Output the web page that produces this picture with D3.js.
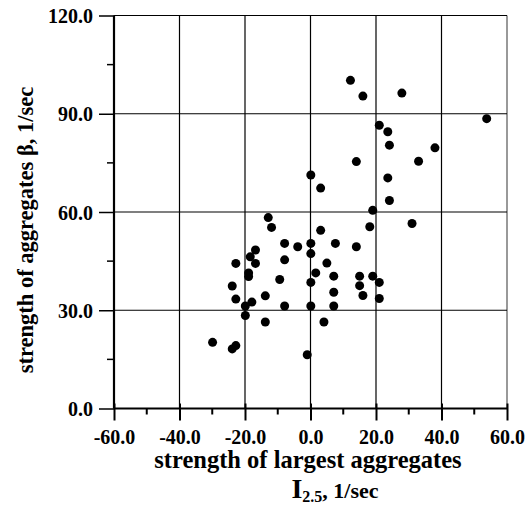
<!DOCTYPE html>
<html>
<head>
<meta charset="utf-8">
<script src="https://cdn.jsdelivr.net/npm/d3@7"></script>
<style>
  html, body { margin: 0; padding: 0; background: #fff; }
  svg { display: block; }
  text { font-family: "Liberation Serif", "Times New Roman", serif; font-weight: bold; fill: #000; }
</style>
</head>
<body>
<svg id="chart" width="527" height="506"></svg>
<script>
// Largest-aggregate strength I(2.5) vs aggregate strength beta, both in 1/sec
const strengthLargest = [
  12.2, 16.0, 27.9, 53.8, 21.0, 23.6, 24.1, 38.0, 14.0, 33.0,
  0.1, 3.1, 23.6, 24.1, 19.0, -12.9, -11.9, 3.1, 31.0, 18.1,
  -7.9, -3.9, 0.1, 7.6, 14.0, -16.8, -18.4, -22.8, -16.8, -7.9,
  0.1, 5.0, -18.9, -18.9, 1.6, 7.1, 15.0, 19.0, -9.4, 0.1,
  21.0, -23.9, 15.0, 7.1, 16.0, -13.8, -22.8, 21.0, -17.9, -19.9,
  -7.9, 0.1, 7.1, -19.9, -13.8, 4.1, -29.9, -22.8, -23.9, -1.0
];
const strengthBeta = [
  100.2, 95.4, 96.3, 88.5, 86.5, 84.5, 80.4, 79.6, 75.4, 75.5,
  71.3, 67.3, 70.4, 63.5, 60.5, 58.3, 55.3, 54.4, 56.5, 55.5,
  50.4, 49.4, 50.4, 50.4, 49.4, 48.4, 46.3, 44.3, 44.3, 45.4,
  47.3, 44.4, 41.4, 40.3, 41.4, 40.4, 40.4, 40.4, 39.4, 38.5,
  38.5, 37.4, 37.5, 35.5, 34.5, 34.4, 33.4, 33.6, 32.5, 31.3,
  31.3, 31.3, 31.3, 28.4, 26.4, 26.4, 20.2, 19.2, 18.2, 16.4
];
const xTicks = [-60, -40, -20, 0, 20, 40, 60];
const xMinorTicks = [-50, -30, -10, 10, 30, 50];
const yTicks = [0, 30, 60, 90, 120];
const yMinorTicks = [15, 45, 75, 105];

const svg = d3.select("#chart");
const x = d3.scaleLinear().domain([-60, 60]).range([114, 507]);
const y = d3.scaleLinear().domain([0, 120]).range([408.5, 15.5]);

// grid lines
const grid = svg.append("g").attr("stroke", "#000").attr("stroke-width", 1.2);
grid.selectAll(".gx").data(xTicks.slice(1)).join("line")
  .attr("x1", d => x(d)).attr("x2", d => x(d))
  .attr("y1", y(0)).attr("y2", y(120))
  .attr("stroke", d => d === 60 ? "#555" : "#000");
grid.selectAll(".gy").data(yTicks.slice(1)).join("line")
  .attr("y1", d => y(d)).attr("y2", d => y(d))
  .attr("x1", x(-60)).attr("x2", x(60));

// axes (plain hyphen for negative labels)
const fmt = d => d3.format(".1f")(d).replace("\u2212", "-");
const xAxis = svg.append("g").attr("transform", `translate(0,${y(0)})`)
  .call(d3.axisBottom(x).tickValues(xTicks).tickFormat(fmt).tickSize(12).tickPadding(12));
xAxis.selectAll(".tick line").attr("y1", -5).attr("stroke-width", 2);
xAxis.selectAll(".tick text").attr("font-size", 20).attr("dy", "0.55em");
xAxis.select(".domain").attr("stroke-width", 2.2).attr("d", `M${x(-60)},0H${x(60)}`);
xAxis.append("g").selectAll("line").data(xMinorTicks).join("line")
  .attr("x1", d => x(d)).attr("x2", d => x(d)).attr("y1", 0).attr("y2", 6)
  .attr("stroke", "#000").attr("stroke-width", 2);

const yAxis = svg.append("g").attr("transform", `translate(${x(-60)},0)`)
  .call(d3.axisLeft(y).tickValues(yTicks).tickFormat(fmt).tickSize(15).tickPadding(6));
yAxis.selectAll(".tick line").attr("stroke-width", 1.5);
yAxis.selectAll(".tick text").attr("font-size", 20).attr("dy", "0.36em");
yAxis.select(".domain").attr("stroke-width", 2.2).attr("d", `M0,${y(0)}V${y(120)}`);
yAxis.append("g").selectAll("line").data(yMinorTicks).join("line")
  .attr("y1", d => y(d)).attr("y2", d => y(d)).attr("x1", -7).attr("x2", 0)
  .attr("stroke", "#000").attr("stroke-width", 1.5);
svg.selectAll(".domain, .tick line").attr("stroke", "#000");

// points
svg.append("g").selectAll("circle").data(strengthLargest).join("circle")
  .attr("cx", d => x(d))
  .attr("cy", (d, i) => y(strengthBeta[i]))
  .attr("r", 4.5)
  .attr("fill", "#000");

// axis titles
svg.append("text")
  .attr("transform", "translate(33,230) rotate(-90)")
  .attr("text-anchor", "middle")
  .attr("font-size", 22.5)
  .text("strength of aggregates β, 1/sec");

svg.append("text")
  .attr("x", 308).attr("y", 468)
  .attr("text-anchor", "middle")
  .attr("font-size", 24.5)
  .text("strength of largest aggregates");

const sub = svg.append("text")
  .attr("x", 335).attr("y", 498)
  .attr("text-anchor", "middle");
sub.append("tspan").attr("font-size", 28).text("I");
sub.append("tspan").attr("font-size", 16).attr("dy", 3.5).text("2.5");
sub.append("tspan").attr("font-size", 22).attr("dy", -3.5).text(", 1/sec");
</script>
</body>
</html>
